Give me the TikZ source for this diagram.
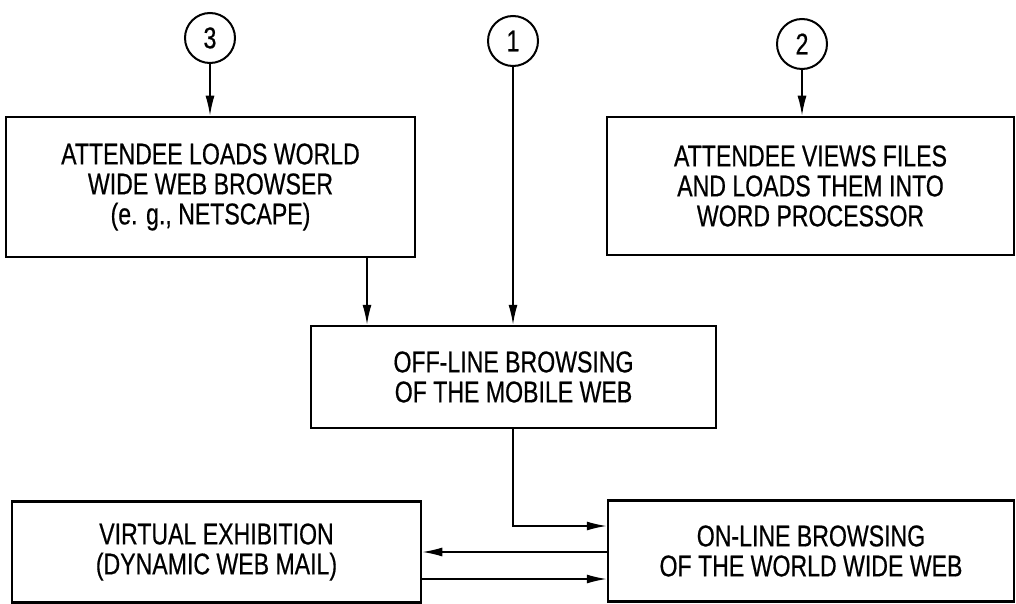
\documentclass[tikz,border=0pt]{standalone}
\usepackage{fontspec}
\setmainfont{Liberation Sans}[FakeStretch=0.77,FakeBold=0.5]
\usetikzlibrary{arrows.meta}
\tikzset{
  box/.style={draw, line width=2.5pt, rectangle, align=center, inner sep=0pt,
    font=\fontsize{30}{30}\selectfont},
  conn/.style={circle, draw, line width=2pt, minimum size=50pt, inner sep=0pt,
    font=\fontsize{30}{30}\selectfont},
  arr/.style={line width=1.6pt, -{Latex[length=20pt,width=9pt]}},
  ln/.style={line width=1.6pt}
}
\begin{document}
\begin{tikzpicture}[x=1pt,y=-1pt]
\useasboundingbox (0,0) rectangle (1016,604);
\node[conn] (c3) at (210,38) {3};
\node[conn] (c1) at (513,41) {1};
\node[conn] (c2) at (802,44) {2};
\node[box, minimum width=409pt, minimum height=140pt] (load) at (210.5,187)
  {ATTENDEE LOADS WORLD\\WIDE WEB BROWSER\\(e. g., NETSCAPE)};
\node[box, minimum width=407pt, minimum height=138pt] (views) at (810.5,186)
  {ATTENDEE VIEWS FILES\\AND LOADS THEM INTO\\WORD PROCESSOR};
\node[box, minimum width=405pt, minimum height=102pt] (off) at (513.5,377)
  {OFF-LINE BROWSING\\OF THE MOBILE WEB};
\node[box, minimum width=409pt, minimum height=101pt] (virt) at (216.5,552)
  {VIRTUAL EXHIBITION\\(DYNAMIC WEB MAIL)};
\node[box, minimum width=406pt, minimum height=101pt] (on) at (811,551)
  {ON-LINE BROWSING\\OF THE WORLD WIDE WEB};
\draw[arr] (c3) -- (c3 |- load.north);
\draw[arr] (c2) -- (c2 |- views.north);
\draw[arr] (c1) -- (c1 |- off.north);
\draw[arr] (load.south -| 367,0) -- (off.north -| 367,0);
\coordinate (turn) at (513,526);
\draw[arr] (off.south -| turn) -- (turn) -- (turn -| on.west);
\draw[arr] (on.west |- 0,552) -- (virt.east |- 0,552);
\draw[arr] (virt.east |- 0,579) -- (on.west |- 0,579);
\end{tikzpicture}
\end{document}
